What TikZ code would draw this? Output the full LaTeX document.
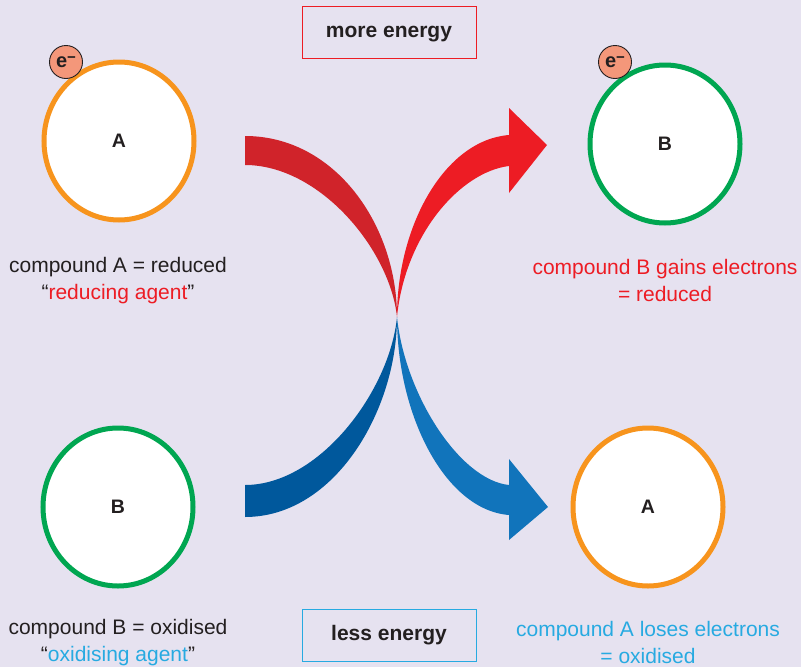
\documentclass[tikz,border=0pt]{standalone}
\usepackage{fontspec}
\setmainfont{Liberation Sans}
\usetikzlibrary{shapes.geometric}
\definecolor{bg}{HTML}{E6E2F0}
\definecolor{orng}{HTML}{F7941D}
\definecolor{grn}{HTML}{00A651}
\definecolor{redtxt}{HTML}{ED1C24}
\definecolor{bluetxt}{HTML}{27AAE1}
\definecolor{txt}{HTML}{231F20}
\definecolor{redL}{HTML}{D0232A}
\definecolor{redR}{HTML}{ED1C24}
\definecolor{blueL}{HTML}{00589C}
\definecolor{blueR}{HTML}{1174BB}
\definecolor{elec}{HTML}{F4977A}
\tikzset{
  mol/.style={ellipse, draw=#1, line width=5pt, fill=white, minimum width=150pt, minimum height=158pt, inner sep=0pt, font=\fontsize{19.5}{22}\selectfont\bfseries, text=txt},
  electron/.style={circle, draw=txt, line width=0.9pt, fill=elec, minimum size=33pt, inner sep=0pt, font=\fontsize{20}{22}\selectfont\bfseries, text=txt},
  lbl/.style={align=center, font=\fontsize{21}{27}\selectfont},
  ebox/.style={draw=#1, line width=1pt, minimum width=174pt, minimum height=52pt, inner sep=0pt, text height=11pt, text depth=0pt, font=\fontsize{21}{24}\selectfont\bfseries, text=txt}
}
\newcommand{\eminus}{e\raisebox{0.42ex}{\fontsize{15}{15}\selectfont −}}
\begin{document}
\begin{tikzpicture}[x=1pt,y=-1pt]
\fill[bg] (0,0) rectangle (801,667);
\useasboundingbox (0,0) rectangle (801,667);

% boxes
\node[ebox=redtxt] (more) at (389,32) {more energy};
\node[ebox=bluetxt] (less) at (389,635) {less energy};

% molecules
\node[mol=orng] (A1) at (119,141) {A};
\node[mol=grn] (B1) at (665,144) {B};
\node[mol=grn] (B2) at (118,507) {B};
\node[mol=orng] (A2) at (648,507) {A};

\node[electron] (e1) at (66,62) {\eminus};
\node[electron] (e2) at (615,62) {\eminus};

% arrows
\coordinate (m) at (397,317);
\fill[redL] (245,136) .. controls (335,136) and (397,225) .. (m)
  .. controls (390,250) and (320,165) .. (245,165) -- cycle;
\fill[redR] (m) .. controls (397,225) and (445,140) .. (509,135)
  -- (509,108) -- (547,145) -- (509,193) -- (509,166)
  .. controls (460,172) and (405,235) .. (m) -- cycle;
\fill[blueL] (245,517) .. controls (335,517) and (397,410) .. (m)
  .. controls (390,390) and (320,485) .. (245,485) -- cycle;
\fill[blueR] (m) .. controls (405,395) and (460,480) .. (509,485)
  -- (509,459) -- (548,507) -- (509,540) -- (509,515)
  .. controls (445,510) and (397,415) .. (m) -- cycle;

% labels
\node[lbl, text=txt] (lA1) at (118,281) {compound A = reduced\\“\textcolor{redtxt}{reducing agent}”};
\node[lbl, text=redtxt] (lB1) at (665,280) {compound B gains electrons\\= reduced};
\node[lbl, text=txt] (lB2) at (118,642.5) {compound B = oxidised\\“\textcolor{bluetxt}{oxidising agent}”};
\node[lbl, text=bluetxt] (lA2) at (648,642) {compound A loses electrons\\= oxidised};
\end{tikzpicture}
\end{document}
